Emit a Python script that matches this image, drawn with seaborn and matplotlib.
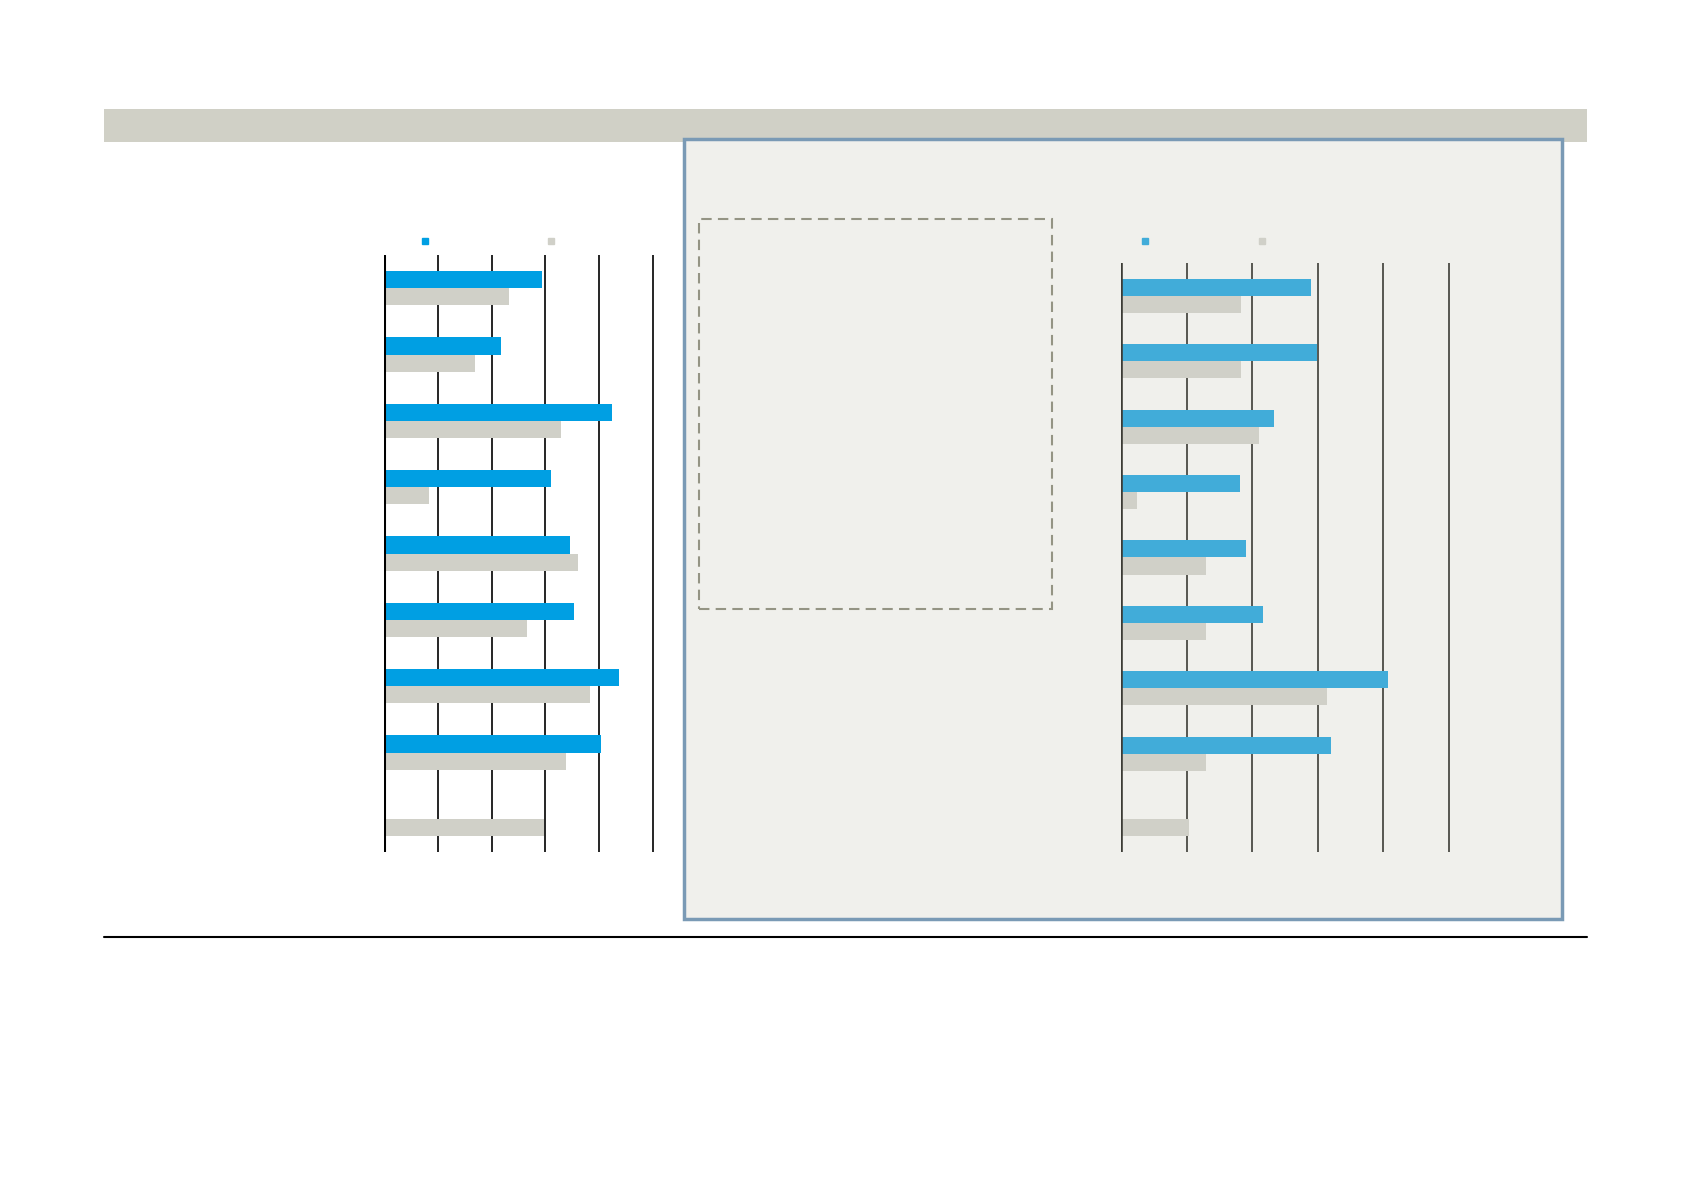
import pandas as pd
import matplotlib.pyplot as plt
import seaborn as sns
from matplotlib.patches import Rectangle
from matplotlib.lines import Line2D

# Chart values (0-50 scale)
categories = ["c1", "c2", "c3", "c4", "c5", "c6", "c7", "c8", "c9"]
series = ["current", "previous"]
left_current = [29.3, 21.7, 42.4, 31.1, 34.5, 35.3, 43.6, 40.4, None]
left_previous = [23.3, 16.9, 32.9, 8.4, 36.1, 26.5, 38.2, 33.9, 29.7]
right_current = [29.0, 29.9, 23.3, 18.2, 19.1, 21.6, 40.8, 32.0, None]
right_previous = [18.3, 18.3, 21.0, 2.5, 13.0, 13.0, 31.5, 13.0, 10.4]
x_ticks = [0, 10, 20, 30, 40, 50]


def long_frame(current, previous):
    return pd.DataFrame({
        "category": categories * 2,
        "series": [series[0]] * len(categories) + [series[1]] * len(categories),
        "value": list(current) + list(previous),
    })


sns.set_theme(style="white")
plt.rcParams["font.family"] = ["DejaVu Sans"]

fig = plt.figure(figsize=(16.95, 11.98), dpi=100)
fig.patch.set_facecolor("white")

gray_bar = "#d0d0c8"

# Header band
fig.patches.append(Rectangle((0.0614, 0.8815), 0.875, 0.0275, transform=fig.transFigure,
                             facecolor="#d0d0c6", edgecolor="none", zorder=-3))
# Right highlighted panel
fig.patches.append(Rectangle((0.4035, 0.2329), 0.518, 0.6511, transform=fig.transFigure,
                             facecolor="#f0f0ec", edgecolor="#7a9ab5", linewidth=2.5, zorder=-2))
# Dashed box inside the panel
fig.patches.append(Rectangle((0.4124, 0.4917), 0.2083, 0.3255, transform=fig.transFigure,
                             facecolor="none", edgecolor="#949484", linewidth=1.5,
                             linestyle=(0, (5, 3)), zorder=-1))
# Bottom rule
fig.add_artist(Line2D([0.0614, 0.9364], [0.2179, 0.2179], transform=fig.transFigure,
                      color="black", linewidth=1.5))


def draw_panel(rect, current, previous, blue, grid_color, edge_w):
    ax = fig.add_axes(rect)
    ax.set_facecolor("none")
    df = long_frame(current, previous)
    sns.barplot(data=df, y="category", x="value", hue="series", hue_order=series,
                palette=[blue, gray_bar], width=0.52, orient="h", ax=ax,
                legend=False, saturation=1, linewidth=0)
    ax.set_xlim(0, 52)
    ax.set_ylim(8.5, -0.5)
    ax.set_xticks(x_ticks)
    ax.set_yticks([])
    ax.set_xticklabels([])
    ax.set_xlabel("")
    ax.set_ylabel("")
    ax.tick_params(length=0)
    for s in ax.spines.values():
        s.set_visible(False)
    ax.set_axisbelow(True)
    ax.grid(axis="x", color=grid_color, linewidth=1.2)
    ax.grid(axis="y", visible=False)
    ax.axvline(0, color=grid_color, linewidth=edge_w, zorder=5)
    return ax


draw_panel([0.2265, 0.2888, 0.1652, 0.4983], left_current, left_previous,
           "#009fe3", "black", 2.2)
draw_panel([0.6614, 0.2888, 0.2010, 0.4917], right_current, right_previous,
           "#41acd9", "#3c3c36", 2.6)

# Legend swatches (no labels in the reference)
for (x, c) in [(425, "#009fe3"), (551, gray_bar), (1145, "#41acd9"), (1262, gray_bar)]:
    fig.add_artist(Line2D([x / 1695], [1 - 241 / 1198], transform=fig.transFigure,
                          marker="s", markersize=5, color=c, linestyle="none"))

plt.savefig("out.png", dpi=100)
